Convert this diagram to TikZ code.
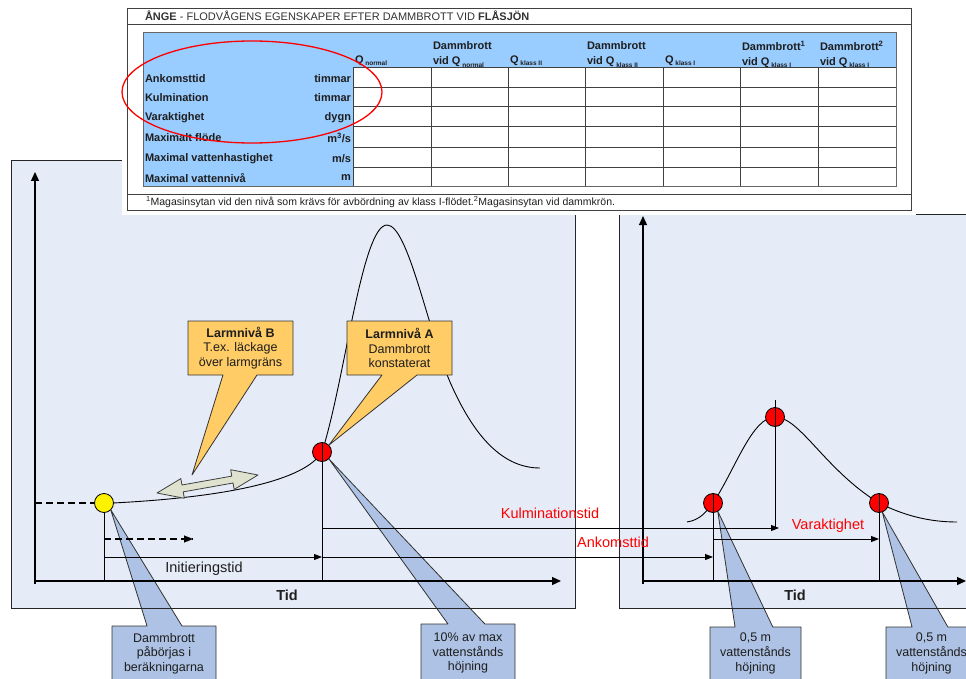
\documentclass[tikz,border=0pt]{standalone}
\usepackage{fontspec}
\setmainfont{Liberation Sans}
\usetikzlibrary{arrows.meta,calc}
\definecolor{panelbg}{RGB}{229,235,247}
\definecolor{hdrblue}{RGB}{153,204,255}
\definecolor{orangebox}{RGB}{255,204,102}
\definecolor{bluebox}{RGB}{173,194,228}
\definecolor{dblarrow}{RGB}{222,226,206}
\definecolor{gridc}{RGB}{64,64,64}
\definecolor{txt}{RGB}{30,30,30}
\pgfdeclarelayer{bgl}
\pgfdeclarelayer{calloutl}
\pgfsetlayers{bgl,calloutl,main}
\newcommand\qsub[1]{Q\,\raisebox{-2.3pt}{\fontsize{6.5}{7}\selectfont #1}}
\begin{document}
\begin{tikzpicture}[x=1pt,y=-1pt,
  every node/.style={inner sep=0pt,outer sep=0pt},
  tbl/.style={font=\fontsize{11}{15}\selectfont\bfseries,text=txt},
  lbl/.style={tbl,anchor=west},
  unit/.style={tbl,anchor=east},
  hdr/.style={tbl,anchor=west,align=left},
  gridline/.style={draw=gridc,line width=1pt},
  panel/.style={draw=black!85,line width=0.9pt},
  dot/.style={circle,draw=black,line width=0.8pt,minimum size=19pt},
  axisarr/.style={line width=1.3pt,-{Triangle[length=9pt,width=8pt]}},
  tarr/.style={line width=0.9pt,-{Triangle[length=8pt,width=6pt]}},
  dasharr/.style={line width=1.8pt,dash pattern=on 7pt off 4pt},
  vline/.style={line width=0.9pt},
  curve/.style={line width=0.9pt},
  ctext/.style={font=\fontsize{12.5}{14.7}\selectfont,align=center,text=txt},
  tidt/.style={font=\fontsize{14.5}{17}\selectfont\bfseries,text=txt},
  bigt/.style={font=\fontsize{14.5}{17}\selectfont,text=txt},
  redt/.style={font=\fontsize{14.5}{17}\selectfont,text=red},
  callout/.style={draw=black!80,line width=0.8pt,line join=round},
]
\clip (0,0) rectangle (966,679);
% ---------- panels ----------
\begin{pgfonlayer}{bgl}
\fill[white] (0,0) rectangle (966,679);
\fill[panelbg] (11,160) rectangle (575,608);
\fill[panelbg] (619,214) rectangle (1000,608);
\end{pgfonlayer}
\draw[panel] (11,160) rectangle (575,608);
\draw[panel] (619,214) rectangle (1000,608);

% ---------- table ----------
\fill[white] (122,3) rectangle (916,215);
\draw[gridc,line width=0.9pt] (127,8) rectangle (911,210);
\draw[gridc,line width=0.9pt] (127,24) -- (911,24);
\draw[gridc,line width=0.9pt] (127,194) -- (911,194);
\fill[hdrblue] (143,33) rectangle (896,68);
\fill[hdrblue] (143,68) rectangle (353,187);
\foreach \yy in {68,88,107,127,148,168} \draw[gridline] (353,\yy) -- (896,\yy);
\foreach \xx in {353,431,508,585,663,740,818} \draw[gridline] (\xx,68) -- (\xx,187);
\draw[gridc!80,line width=1pt] (143,33) rectangle (896,187);

\node[anchor=west,font=\fontsize{11}{13}\selectfont,text=black!80] (title) at (145,16)
  {\textbf{ÅNGE} - FLODVÅGENS EGENSKAPER EFTER DAMMBROTT VID \textbf{FLÅSJÖN}};

\node[hdr] (h1) at (355,61) {\qsub{normal}};
\node[hdr] (h2) at (433,54.5) {Dammbrott\\vid \qsub{normal}};
\node[hdr] (h3) at (510,61) {\qsub{klass II}};
\node[hdr] (h4) at (587,54.5) {Dammbrott\\vid \qsub{klass II}};
\node[hdr] (h5) at (665,61) {\qsub{klass I}};
\node[hdr] (h6) at (742,54.5) {Dammbrott\textsuperscript{1}\\vid \qsub{klass I}};
\node[hdr] (h7) at (820,54.5) {Dammbrott\textsuperscript{2}\\vid \qsub{klass I}};

\node[lbl] (r1) at (145,78.5) {Ankomsttid};
\node[unit] (u1) at (351,78.5) {timmar};
\node[lbl] (r2) at (145,98) {Kulmination};
\node[unit] (u2) at (351,98) {timmar};
\node[lbl] (r3) at (145,117.5) {Varaktighet};
\node[unit] (u3) at (351,117.5) {dygn};
\node[lbl] (r4) at (145,138) {Maximalt flöde};
\node[unit] (u4) at (351,138) {m\textsuperscript{3}/s};
\node[lbl] (r5) at (145,158.5) {Maximal vattenhastighet};
\node[unit] (u5) at (351,158.5) {m/s};
\node[lbl] (r6) at (145,178) {Maximal vattennivå};
\node[unit] (u6) at (351,178) {m};

\node[anchor=west,font=\fontsize{10.5}{12}\selectfont,text=txt] (fn) at (146,202)
  {\textsuperscript{1}Magasinsytan vid den nivå som krävs för avbördning av klass I-flödet.\textsuperscript{2}Magasinsytan vid dammkrön.};

\draw[red,line width=1.3pt] (252,92) ellipse [x radius=130, y radius=51];

% ---------- axes ----------
\coordinate (o1) at (35,581);
\coordinate (ytop1) at (35,172);
\coordinate (xend1) at (561,581);
\coordinate (o2) at (643,581);
\coordinate (ytop2) at (643,216);
\coordinate (xend2) at (966,581);
\draw[axisarr] ($(o1)+(0,3)$) -- (ytop1);
\draw[axisarr] ($(o1)+(-1,0)$) -- (xend1);
\draw[axisarr] ($(o2)+(0,3)$) -- (ytop2);
\draw[axisarr] ($(o2)+(-1,0)$) -- (xend2);
\node[tidt] (tid1) at (287,595) {Tid};
\node[tidt] (tid2) at (795,595) {Tid};

% ---------- curves (under the callout boxes) ----------
\begin{pgfonlayer}{calloutl}
\draw[curve] (113,503) .. controls (230,497) and (305,480) .. (322,452)
  .. controls (345,380) and (362,225) .. (387,225)
  .. controls (408,225) and (428,330) .. (450,382)
  .. controls (472,432) and (500,468) .. (540,468);
\draw[curve] (687,522) .. controls (700,520) and (706,512) .. (713,503)
  .. controls (735,470) and (752,417) .. (775,417)
  .. controls (800,417) and (825,470) .. (879,503)
  .. controls (905,516) and (930,522) .. (957,522);
\end{pgfonlayer}

% ---------- double arrow ----------
\begin{scope}[shift={(207.5,484)},rotate=10.1]
\draw[fill=dblarrow,draw=black!75,line width=0.8pt,line join=round]
  (-51.3,0) -- (-25.3,-10) -- (-25.3,-3.5) -- (25.3,-3.5) -- (25.3,-10) -- (51.3,0)
  -- (25.3,10) -- (25.3,3.5) -- (-25.3,3.5) -- (-25.3,10) -- cycle;
\end{scope}

% ---------- points ----------
\node[dot,fill=yellow] (Y) at (104,503) {};
\node[dot,fill=red] (A) at (322,452) {};
\node[dot,fill=red] (R1) at (713,503) {};
\node[dot,fill=red] (Rp) at (775,417) {};
\node[dot,fill=red] (R2) at (879,503) {};

\coordinate (yK) at (0,528);
\coordinate (yV) at (0,539);
\coordinate (yI) at (0,557);
\coordinate (dashend) at (193,539);

\draw[dasharr] (o1 |- Y) -- (Y.west);
\draw[dasharr] (Y |- yV) -- (dashend);
\draw[-{Triangle[length=9pt,width=7pt]},line width=0.1pt] ($(dashend)+(-2,0)$) -- (dashend);
\draw[vline] (Y.south) -- (Y |- o1);
\draw[vline] (A.north) -- (A |- o1);
\draw[vline] (R1.north) -- (R1 |- o2);
\draw[vline] (R2.north) -- (R2 |- o2);
\draw[vline] ($(Rp)+(0,-17)$) -- (Rp |- yK);

\draw[tarr] (Y |- yI) -- (A |- yI);
\draw[tarr] (A |- yI) -- (R1 |- yI);
\draw[tarr] (A |- yK) -- ($(Rp |- yK)+(4,0)$);
\draw[tarr] (R1 |- yV) -- (R2 |- yV);

\node[bigt] (init) at (204,569) {Initieringstid};
\node[redt] (kulm) at (550,513) {Kulminationstid};
\node[redt] (ank) at (613,542) {Ankomsttid};
\node[redt] (vara) at (828,526) {Varaktighet};

% ---------- orange callouts ----------
\coordinate (tipB) at (192,475);
\node[ctext,minimum width=105pt,minimum height=54pt,anchor=north west] (lb) at (188,321)
  {\textbf{Larmnivå B}\\T.ex. läckage\\över larmgräns};
\node[ctext,minimum width=105pt,minimum height=54pt,anchor=north west] (la) at (347,321)
  {\textbf{Larmnivå A}\\Dammbrott\\konstaterat};
\begin{pgfonlayer}{calloutl}
\draw[callout,fill=orangebox] (lb.north west) -- (lb.north east) -- (lb.south east)
  -- ($(lb.south west)!0.657!(lb.south east)$) -- (tipB)
  -- ($(lb.south west)!0.333!(lb.south east)$) -- (lb.south west) -- cycle;
\draw[callout,fill=orangebox] (la.north west) -- (la.north east) -- (la.south east)
  -- ($(la.south west)!0.667!(la.south east)$) -- (A.north east)
  -- ($(la.south west)!0.333!(la.south east)$) -- (la.south west) -- cycle;
\end{pgfonlayer}

% ---------- blue callouts ----------
\node[minimum width=104pt,minimum height=64pt,anchor=north west] (c1) at (112,626) {};
\node[minimum width=94pt,minimum height=66pt,anchor=north west] (c2) at (421,624) {};
\node[minimum width=91pt,minimum height=63pt,anchor=north west] (c3) at (710,627) {};
\node[minimum width=91pt,minimum height=63pt,anchor=north west] (c4) at (886,627) {};
\node[ctext] (c1t) at ($(c1.north)+(0,27.5)$) {Dammbrott\\påbörjas i\\beräkningarna};
\node[ctext] (c2t) at ($(c2.north)+(0,29)$) {10\% av max\\vattenstånds\\höjning};
\node[ctext] (c3t) at ($(c3.north)+(0,26.5)$) {0,5 m\\vattenstånds\\höjning};
\node[ctext] (c4t) at ($(c4.north)+(0,26.5)$) {0,5 m\\vattenstånds\\höjning};
\begin{pgfonlayer}{calloutl}
\draw[callout,fill=bluebox] (c1.south west) -- (c1.north west)
  -- ($(c1.north west)!0.337!(c1.north east)$) -- (Y.south east)
  -- ($(c1.north west)!0.673!(c1.north east)$) -- (c1.north east) -- (c1.south east) -- cycle;
\draw[callout,fill=bluebox] (c2.south west) -- (c2.north west)
  -- ($(c2.north west)!0.287!(c2.north east)$) -- (A.south east)
  -- ($(c2.north west)!0.68!(c2.north east)$) -- (c2.north east) -- (c2.south east) -- cycle;
\draw[callout,fill=bluebox] (c3.south west) -- (c3.north west)
  -- ($(c3.north west)!0.275!(c3.north east)$) -- (R1.-60)
  -- ($(c3.north west)!0.69!(c3.north east)$) -- (c3.north east) -- (c3.south east) -- cycle;
\draw[callout,fill=bluebox] (c4.south west) -- (c4.north west)
  -- ($(c4.north west)!0.286!(c4.north east)$) -- (R2.-70)
  -- ($(c4.north west)!0.68!(c4.north east)$) -- (c4.north east) -- (c4.south east) -- cycle;
\end{pgfonlayer}
\end{tikzpicture}
\end{document}
